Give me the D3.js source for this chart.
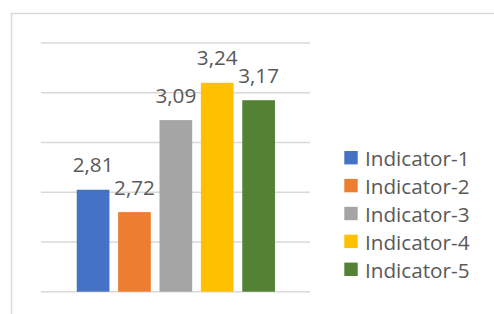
<!DOCTYPE html>
<html>
<head>
<meta charset="utf-8">
<script src="https://cdn.jsdelivr.net/npm/d3@7"></script>
<style>
  body { margin: 0; background: #fff; }
  svg { display: block; }
</style>
</head>
<body>
<div id="chart"></div>
<script>
// chart data
var seriesNames = ["Indicator-1", "Indicator-2", "Indicator-3", "Indicator-4", "Indicator-5"];
var seriesValues = [2.81, 2.72, 3.09, 3.24, 3.17];
var seriesColors = ["#4472C4", "#ED7D31", "#A5A5A5", "#FFC000", "#548235"];
var gridTicks = [2.4, 2.6, 2.8, 3.0, 3.2, 3.4];

var width = 494, height = 314;

var svg = d3.select("#chart")
    .append("svg")
    .attr("width", width)
    .attr("height", height);

// chart area frame (runs off the right and bottom edge)
svg.append("rect")
    .attr("x", 11.5)
    .attr("y", 13.5)
    .attr("width", 500)
    .attr("height", 320)
    .attr("fill", "none")
    .attr("stroke", "#d9d9d9")
    .attr("stroke-width", 1.5);

var plotLeft = 41, plotRight = 310;

var y = d3.scaleLinear()
    .domain([2.4, 3.4])
    .range([291.7, 43]);

var x = d3.scaleBand()
    .domain(seriesNames)
    .range([72.4, 279.3])
    .paddingInner(0.21)
    .paddingOuter(0.105);

// gridlines
svg.append("g")
    .selectAll("line")
    .data(gridTicks)
    .enter()
    .append("line")
    .attr("x1", plotLeft)
    .attr("x2", plotRight)
    .attr("y1", function(d) { return y(d); })
    .attr("y2", function(d) { return y(d); })
    .attr("stroke", "#d9d9d9")
    .attr("stroke-width", 1.5);

// bars
svg.append("g")
    .selectAll("rect")
    .data(seriesValues)
    .enter()
    .append("rect")
    .attr("x", function(d, i) { return x(seriesNames[i]); })
    .attr("y", function(d) { return y(d); })
    .attr("width", x.bandwidth())
    .attr("height", function(d) { return y(2.4) - y(d); })
    .attr("fill", function(d, i) { return seriesColors[i]; });

// value labels
svg.append("g")
    .selectAll("text")
    .data(seriesValues)
    .enter()
    .append("text")
    .attr("x", function(d, i) { return x(seriesNames[i]) + x.bandwidth() / 2; })
    .attr("y", function(d) { return y(d) - 17.5; })
    .attr("text-anchor", "middle")
    .attr("font-family", "Open Sans, sans-serif")
    .attr("font-size", "20.7px")
    .attr("fill", "#595959")
    .text(function(d) { return d.toFixed(2).replace(".", ","); });

// legend
var legend = svg.append("g")
    .selectAll("g")
    .data(seriesNames)
    .enter()
    .append("g")
    .attr("transform", function(d, i) { return "translate(344.3," + (151 + i * 27.9) + ")"; });

legend.append("rect")
    .attr("width", 13.4)
    .attr("height", 13.4)
    .attr("fill", function(d, i) { return seriesColors[i]; });

legend.append("text")
    .attr("x", 20.7)
    .attr("y", 15)
    .attr("font-family", "Open Sans, sans-serif")
    .attr("font-size", "20.7px")
    .attr("fill", "#595959")
    .text(function(d) { return d; });
</script>
</body>
</html>
